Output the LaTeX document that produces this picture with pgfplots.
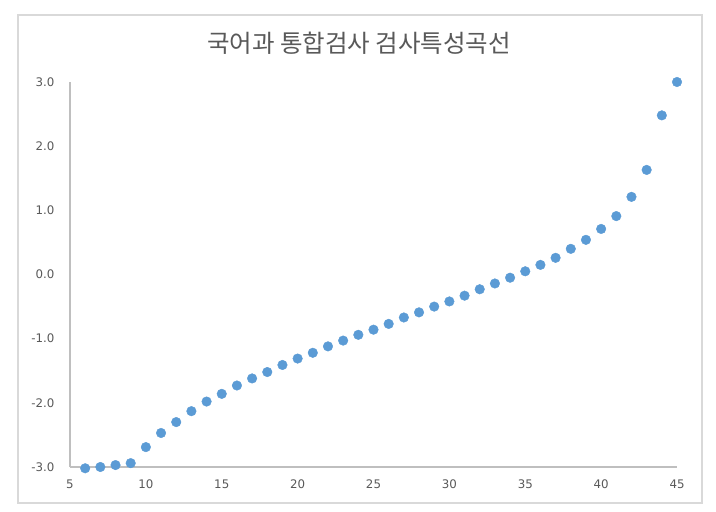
\documentclass[border=0pt]{standalone}
\usepackage{pgfplots}
\pgfplotsset{compat=1.18}
\usepackage{fontspec}
\setmainfont{DejaVu Sans}
\newfontfamily\kr{Noto Sans CJK KR}
\definecolor{ptblue}{HTML}{5B9BD5}
\definecolor{txtgray}{HTML}{595959}
\definecolor{axgray}{HTML}{BFBFBF}
\definecolor{frame}{HTML}{D9D9D9}
\begin{document}
\begin{tikzpicture}[x=1bp,y=1bp]
\useasboundingbox (0,0) rectangle (716,512);
\fill[white] (0,0) rectangle (716,512);
\draw[frame, line width=1.5bp] (18,9) rectangle (702,497);
\node[text=txtgray, font=\kr\fontsize{24.5bp}{28bp}\selectfont] at (359,469) {국어과 통합검사 검사특성곡선};
\begin{axis}[
  at={(70bp,45bp)}, anchor=south west,
  width=607bp, height=385bp, scale only axis,
  xmin=5, xmax=45, ymin=-3, ymax=3,
  axis x line=bottom, axis y line=left,
  axis line style={axgray, line width=1.2bp, -},
  xtick={5,10,...,45},
  xticklabels={5,10,15,20,25,30,35,40,45},
  ytick={-3,-2,...,3},
  yticklabels={-3.0,-2.0,-1.0,0.0,1.0,2.0,3.0},
  major tick length=0pt,
  tick label style={text=txtgray, font=\fontsize{11.8bp}{14bp}\selectfont},
  xticklabel style={yshift=-9bp},
  yticklabel style={xshift=-12bp},
  clip=false,
]
\addplot[only marks, mark=*, mark size=4.8bp, mark options={draw=ptblue, fill=ptblue}] coordinates {
(6,-3.02) (7,-3.00) (8,-2.97) (9,-2.94) (10,-2.69) (11,-2.47) (12,-2.30) (13,-2.13)
(14,-1.98) (15,-1.86) (16,-1.73) (17,-1.62) (18,-1.52) (19,-1.41) (20,-1.31)
(21,-1.22) (22,-1.12) (23,-1.03) (24,-0.94) (25,-0.86) (26,-0.77) (27,-0.67)
(28,-0.59) (29,-0.50) (30,-0.42) (31,-0.33) (32,-0.23) (33,-0.14) (34,-0.05)
(35,0.05) (36,0.15) (37,0.26) (38,0.40) (39,0.54) (40,0.71) (41,0.91)
(42,1.21) (43,1.63) (44,2.48) (45,3.00)
};
\end{axis}
\end{tikzpicture}
\end{document}
